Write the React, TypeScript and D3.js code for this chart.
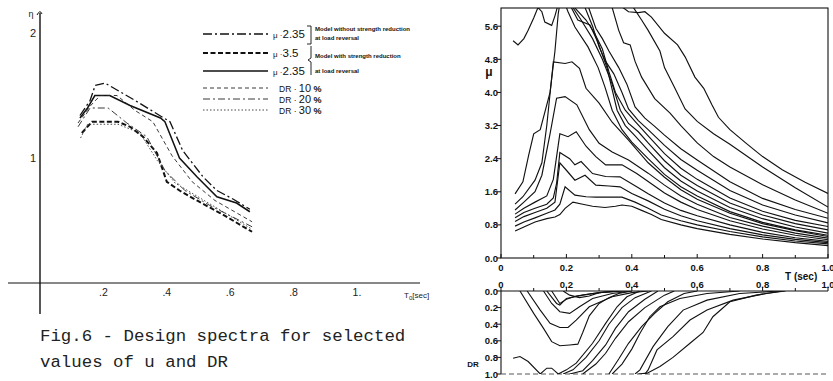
import React from 'react';
import * as d3 from 'd3';

type P = [number, number];

// ---------- Left chart (design spectra) ----------
const leftXTicks = [0.2, 0.4, 0.6, 0.8, 1.0];
const leftXTickLabels = ['.2', '.4', '.6', '.8', '1.'];
const leftYTicks = [1, 2];
const leftYTickLabels = ['1', '2'];

const mu235NoRed: P[] = [[0.126, 1.34], [0.158, 1.46], [0.174, 1.58], [0.205, 1.6], [0.3, 1.46], [0.41, 1.29], [0.45, 1.06], [0.514, 0.85], [0.558, 0.74], [0.61, 0.67], [0.662, 0.59]];
const mu35: P[] = [[0.132, 1.2], [0.164, 1.29], [0.246, 1.29], [0.284, 1.25], [0.325, 1.17], [0.369, 1.04], [0.4, 0.81], [0.44, 0.74], [0.495, 0.66], [0.568, 0.56], [0.669, 0.41]];
const mu235Red: P[] = [[0.126, 1.32], [0.15, 1.4], [0.173, 1.5], [0.22, 1.5], [0.284, 1.42], [0.38, 1.32], [0.394, 1.29], [0.44, 1.0], [0.495, 0.85], [0.558, 0.69], [0.62, 0.64], [0.662, 0.57]];
const dr10: P[] = [[0.12, 1.28], [0.16, 1.42], [0.19, 1.5], [0.243, 1.5], [0.3, 1.38], [0.356, 1.29], [0.416, 1.02], [0.48, 0.81], [0.552, 0.66], [0.669, 0.49]];
const dr20: P[] = [[0.12, 1.25], [0.158, 1.4], [0.215, 1.4], [0.274, 1.28], [0.337, 1.17], [0.394, 0.9], [0.457, 0.74], [0.536, 0.62], [0.669, 0.45]];
const dr30: P[] = [[0.128, 1.16], [0.15, 1.27], [0.246, 1.27], [0.315, 1.2], [0.37, 0.98], [0.426, 0.8], [0.505, 0.68], [0.669, 0.43]];

const legendValues = ['2.35', '3.5', '2.35', '10', '20', '30'];
const legendPrefixes = ['μ ·', 'μ ·', 'μ ·', 'DR · ', 'DR · ', 'DR · '];
const legendSuffixes = ['', '', '', ' %', ' %', ' %'];
const annotations = ['Model  without  strength  reduction', 'at  load  reversal', 'Model  with  strength  reduction', 'at  load  reversal'];

// ---------- Right upper chart (mu spectra) ----------
const muYTicks = [0, 0.8, 1.6, 2.4, 3.2, 4.0, 4.8, 5.6];
const tXTicks = [0, 0.2, 0.4, 0.6, 0.8, 1.0];
const tMinorTicks = [0.1, 0.3, 0.5, 0.7, 0.9];

const muC1: P[] = [[0.043, 0.65], [0.07, 0.75], [0.104, 0.87], [0.14, 0.95], [0.165, 0.99], [0.18, 1.05], [0.196, 1.2], [0.22, 1.35], [0.25, 1.3], [0.28, 1.25], [0.318, 1.22], [0.35, 1.25], [0.37, 1.28], [0.4, 1.25], [0.43, 1.15], [0.46, 1.05], [0.49, 0.93], [0.55, 0.8], [0.6, 0.71], [0.7, 0.57], [0.8, 0.46], [0.9, 0.37], [1.0, 0.3]];
const muC2: P[] = [[0.043, 0.77], [0.07, 0.87], [0.104, 0.97], [0.14, 1.08], [0.165, 1.16], [0.18, 1.3], [0.196, 1.72], [0.226, 1.52], [0.26, 1.48], [0.29, 1.47], [0.37, 1.47], [0.41, 1.35], [0.45, 1.2], [0.49, 1.04], [0.55, 0.9], [0.6, 0.8], [0.7, 0.64], [0.8, 0.51], [0.9, 0.41], [1.0, 0.34]];
const muC3: P[] = [[0.043, 0.88], [0.07, 1.0], [0.104, 1.1], [0.14, 1.2], [0.165, 1.35], [0.18, 2.3], [0.2, 2.12], [0.226, 1.88], [0.257, 2.0], [0.29, 1.76], [0.33, 1.74], [0.364, 1.72], [0.4, 1.56], [0.45, 1.38], [0.5, 1.18], [0.55, 1.02], [0.6, 0.9], [0.7, 0.71], [0.8, 0.56], [0.9, 0.45], [1.0, 0.37]];
const muC4: P[] = [[0.043, 0.97], [0.07, 1.1], [0.104, 1.2], [0.14, 1.3], [0.16, 1.45], [0.17, 1.8], [0.18, 2.55], [0.21, 2.4], [0.226, 2.25], [0.245, 2.33], [0.28, 2.04], [0.32, 1.97], [0.364, 1.96], [0.415, 1.72], [0.45, 1.55], [0.5, 1.33], [0.55, 1.15], [0.6, 1.02], [0.7, 0.8], [0.8, 0.62], [0.9, 0.49], [1.0, 0.4]];
const muC5: P[] = [[0.043, 1.06], [0.07, 1.2], [0.104, 1.35], [0.14, 1.5], [0.16, 1.9], [0.18, 3.0], [0.205, 2.93], [0.23, 3.05], [0.26, 2.7], [0.29, 2.45], [0.32, 2.25], [0.37, 2.25], [0.415, 2.04], [0.45, 1.85], [0.5, 1.57], [0.55, 1.35], [0.6, 1.17], [0.7, 0.9], [0.8, 0.7], [0.9, 0.55], [1.0, 0.44]];
const muC6: P[] = [[0.043, 1.16], [0.07, 1.35], [0.104, 1.6], [0.125, 2.0], [0.15, 3.0], [0.17, 3.86], [0.196, 3.9], [0.232, 3.7], [0.27, 3.1], [0.3, 2.77], [0.34, 2.56], [0.39, 2.37], [0.45, 2.05], [0.5, 1.76], [0.55, 1.5], [0.6, 1.3], [0.7, 0.98], [0.8, 0.77], [0.9, 0.6], [1.0, 0.48]];
const muC7: P[] = [[0.043, 1.3], [0.067, 1.48], [0.104, 1.88], [0.125, 2.3], [0.14, 3.2], [0.16, 4.74], [0.196, 4.7], [0.217, 4.74], [0.24, 4.58], [0.26, 4.1], [0.3, 3.74], [0.34, 3.28], [0.39, 2.85], [0.45, 2.3], [0.5, 1.95], [0.55, 1.65], [0.6, 1.42], [0.7, 1.08], [0.8, 0.83], [0.9, 0.66], [1.0, 0.52]];
const muC8: P[] = [[0.043, 1.55], [0.067, 1.84], [0.085, 2.5], [0.1, 3.0], [0.12, 3.1], [0.15, 4.0], [0.165, 5.0], [0.175, 5.9], [0.18, 6.15], [0.195, 6.15], [0.205, 5.95], [0.226, 5.58], [0.266, 5.1], [0.297, 4.6], [0.318, 4.13], [0.34, 3.57], [0.37, 3.1], [0.4, 2.8], [0.45, 2.4], [0.5, 2.02], [0.55, 1.72], [0.6, 1.5], [0.7, 1.12], [0.8, 0.86], [0.9, 0.68], [1.0, 0.55]];
const muC0: P[] = [[0.037, 5.25], [0.052, 5.15], [0.07, 5.3], [0.083, 5.5], [0.1, 5.8], [0.113, 6.05], [0.125, 5.95], [0.134, 5.7], [0.155, 5.62], [0.165, 5.85], [0.172, 6.05], [0.19, 6.3], [0.205, 6.25], [0.215, 6.05], [0.235, 5.75], [0.272, 5.63], [0.297, 5.2], [0.324, 4.6], [0.355, 3.57], [0.38, 3.2], [0.41, 2.95], [0.45, 2.6], [0.5, 2.18], [0.55, 1.86], [0.6, 1.62], [0.7, 1.22], [0.8, 0.95], [0.9, 0.75], [1.0, 0.6]];
const muX1: P[] = [[0.2, 6.4], [0.22, 6.05], [0.245, 5.75], [0.28, 5.3], [0.31, 4.8], [0.34, 4.2], [0.365, 3.57], [0.39, 3.25], [0.42, 3.05], [0.45, 2.78], [0.5, 2.35], [0.55, 2.0], [0.6, 1.75], [0.7, 1.33], [0.8, 1.04], [0.9, 0.83], [1.0, 0.68]];
const muX2: P[] = [[0.21, 6.4], [0.225, 6.05], [0.26, 5.75], [0.285, 5.45], [0.31, 5.05], [0.33, 4.5], [0.35, 4.0], [0.38, 3.57], [0.41, 3.3], [0.45, 2.95], [0.5, 2.52], [0.55, 2.17], [0.6, 1.9], [0.7, 1.45], [0.8, 1.13], [0.9, 0.91], [1.0, 0.76]];
const muX3: P[] = [[0.25, 6.4], [0.257, 6.05], [0.28, 5.6], [0.3, 5.1], [0.32, 4.75], [0.345, 4.45], [0.37, 4.0], [0.39, 3.6], [0.42, 3.32], [0.45, 3.1], [0.5, 2.72], [0.55, 2.38], [0.6, 2.12], [0.7, 1.63], [0.8, 1.28], [0.9, 1.04], [1.0, 0.85]];
const muX4: P[] = [[0.26, 6.4], [0.268, 6.05], [0.29, 5.55], [0.31, 5.3], [0.33, 5.0], [0.36, 4.6], [0.385, 4.2], [0.41, 3.65], [0.44, 3.38], [0.47, 3.18], [0.5, 2.97], [0.55, 2.64], [0.6, 2.37], [0.7, 1.84], [0.8, 1.44], [0.9, 1.17], [1.0, 0.96]];
const muH2: P[] = [[0.335, 6.4], [0.34, 6.05], [0.36, 5.5], [0.375, 5.2], [0.395, 5.15], [0.41, 4.75], [0.43, 4.37], [0.47, 3.85], [0.517, 3.5], [0.55, 3.2], [0.6, 2.78], [0.65, 2.45], [0.7, 2.2], [0.8, 1.77], [0.9, 1.4], [1.0, 1.08]];
const muH1: P[] = [[0.39, 6.4], [0.405, 6.05], [0.43, 5.75], [0.45, 5.5], [0.486, 5.0], [0.5, 4.6], [0.53, 4.13], [0.563, 3.6], [0.6, 3.3], [0.65, 3.0], [0.7, 2.75], [0.8, 2.2], [0.9, 1.7], [1.0, 1.23]];
const muH0: P[] = [[0.36, 6.4], [0.373, 6.05], [0.39, 5.95], [0.42, 5.93], [0.44, 5.95], [0.46, 5.82], [0.5, 5.43], [0.54, 5.15], [0.563, 4.86], [0.593, 4.37], [0.62, 4.1], [0.645, 3.7], [0.665, 3.4], [0.7, 3.1], [0.75, 2.77], [0.8, 2.45], [0.86, 2.13], [0.93, 1.83], [1.0, 1.56]];

// ---------- Right lower chart (DR) ----------
const drYTicks = [0, 0.2, 0.4, 0.6, 0.8, 1.0];

const drL1: P[] = [[0.058, 0], [0.1, 0.27], [0.13, 0.45], [0.155, 0.61], [0.18, 0.66], [0.21, 0.65], [0.235, 0.64], [0.25, 0.5], [0.27, 0.3], [0.3, 0.15], [0.33, 0.08], [0.36, 0.03], [0.4, 0]];
const drL2: P[] = [[0.08, 0], [0.12, 0.23], [0.15, 0.39], [0.18, 0.44], [0.205, 0.44], [0.23, 0.35], [0.27, 0.19], [0.34, 0.07], [0.4, 0.02], [0.45, 0]];
const drL3: P[] = [[0.13, 0], [0.155, 0.15], [0.18, 0.25], [0.21, 0.27], [0.24, 0.19], [0.28, 0.09], [0.34, 0.03], [0.4, 0]];
const drL4: P[] = [[0.14, 0], [0.17, 0.15], [0.18, 0.17], [0.2, 0.09], [0.25, 0.05], [0.3, 0.02], [0.38, 0]];
const drL5: P[] = [[0.155, 0], [0.18, 0.15], [0.2, 0.1], [0.23, 0.06], [0.28, 0.03], [0.35, 0]];
const drL6: P[] = [[0.19, 0], [0.21, 0.05], [0.24, 0.08], [0.27, 0.06], [0.3, 0.02], [0.36, 0]];
const drR1: P[] = [[0.037, 0.81], [0.058, 0.79], [0.083, 0.85], [0.12, 1.0], [0.14, 0.93], [0.155, 0.93], [0.175, 1.0], [0.2, 0.95], [0.23, 0.87], [0.28, 0.63], [0.32, 0.39], [0.355, 0.19], [0.385, 0.07], [0.425, 0]];
const drR2: P[] = [[0.19, 1.0], [0.22, 0.95], [0.26, 0.8], [0.3, 0.6], [0.33, 0.4], [0.37, 0.2], [0.41, 0.08], [0.46, 0]];
const drR3: P[] = [[0.21, 1.0], [0.25, 0.96], [0.28, 0.84], [0.32, 0.65], [0.35, 0.45], [0.39, 0.25], [0.44, 0.1], [0.48, 0]];
const drR4: P[] = [[0.25, 1.0], [0.29, 0.88], [0.32, 0.75], [0.35, 0.57], [0.39, 0.37], [0.44, 0.2], [0.5, 0.05], [0.53, 0]];
const drR5: P[] = [[0.33, 1.0], [0.36, 0.82], [0.39, 0.63], [0.43, 0.43], [0.47, 0.27], [0.51, 0.13], [0.56, 0.03], [0.6, 0]];
const drR6: P[] = [[0.34, 1.0], [0.37, 0.88], [0.4, 0.7], [0.425, 0.51], [0.455, 0.31], [0.486, 0.19], [0.547, 0.09], [0.63, 0.03], [0.73, 0]];
const drR7: P[] = [[0.41, 1.0], [0.425, 0.95], [0.465, 0.67], [0.51, 0.43], [0.557, 0.23], [0.63, 0.11], [0.73, 0.03], [0.85, 0]];
const drR8: P[] = [[0.44, 1.0], [0.45, 0.95], [0.477, 0.71], [0.526, 0.55], [0.578, 0.35], [0.63, 0.23], [0.71, 0.11], [0.81, 0.03], [0.87, 0]];
const drR9: P[] = [[0.42, 1.0], [0.447, 0.99], [0.486, 0.91], [0.526, 0.8], [0.578, 0.63], [0.618, 0.5], [0.648, 0.31], [0.7, 0.13], [0.78, 0.05], [0.86, 0]];

const muCurves = [muC1, muC2, muC3, muC4, muC5, muC6, muC7, muC8, muC0, muX1, muX2, muX3, muX4, muH2, muH1, muH0];
const drCurves = [drL1, drL2, drL3, drL4, drL5, drL6, drR1, drR2, drR3, drR4, drR5, drR6, drR7, drR8, drR9];

export default function App() {
  const W = 833, H = 381;
  // left scales
  const xL = d3.scaleLinear().domain([0, 1]).range([40, 357]);
  const yL = d3.scaleLinear().domain([0, 2]).range([283, 33]);
  const lineL = d3.line<P>().x(d => xL(d[0])).y(d => yL(d[1]));

  // right scales
  const xR = d3.scaleLinear().domain([0, 1]).range([501, 828]);
  const yU = d3.scaleLinear().domain([0, 6.04]).range([258, 8]);
  const yD = d3.scaleLinear().domain([0, 1]).range([291, 374]);
  const lineU = d3.line<P>().x(d => xR(d[0])).y(d => yU(d[1]));
  const lineD = d3.line<P>().x(d => xR(d[0])).y(d => yD(d[1]));

  const leftSeries = [
    { d: mu235NoRed, dash: '9,3,2,3', w: 1.3, c: '#111' },
    { d: mu35, dash: '5,2.5', w: 2.0, c: '#111' },
    { d: mu235Red, dash: '', w: 1.5, c: '#111' },
    { d: dr10, dash: '4,3', w: 0.9, c: '#222' },
    { d: dr20, dash: '7,3,2,3', w: 0.9, c: '#222' },
    { d: dr30, dash: '1.5,2', w: 0.9, c: '#333' },
  ];
  const legendY = [34, 53, 71, 88, 99, 110];

  const fmt = d3.format('.1f');
  const sans = '"Liberation Sans", Arial, sans-serif';
  const mono = '"Liberation Mono", "DejaVu Sans Mono", monospace';

  return (
    <svg width={W} height={H} style={{ position: 'absolute', left: 0, top: 0, background: '#fff' }}
      fontFamily={sans}>
      <rect x={0} y={0} width={W} height={H} fill="#fff" />
      {/* ---------- LEFT CHART ---------- */}
      <line x1={8} x2={420} y1={yL(0)} y2={yL(0)} stroke="#111" strokeWidth={1.2} />
      <line x1={xL(0)} x2={xL(0)} y1={13} y2={314} stroke="#111" strokeWidth={1.4} />
      <path d={`M${xL(0) - 3},15 Q${xL(0)},9 ${xL(0) + 2},14`} fill="none" stroke="#111" strokeWidth={1} />
      {leftXTicks.map((t, i) => (
        <text key={'lx' + i} x={xL(t)} y={296} fontSize={10.5} textAnchor="middle" fill="#222">{leftXTickLabels[i]}</text>
      ))}
      {leftYTicks.map((t, i) => (
        <text key={'ly' + i} x={33} y={yL(t) + 4} fontSize={11} textAnchor="middle" fill="#222">{leftYTickLabels[i]}</text>
      ))}
      <text x={31} y={17} fontSize={9} textAnchor="middle" fill="#222">η</text>
      <text x={404} y={298} fontSize={8} fill="#222">T<tspan fontSize={6} dy={2}>0</tspan><tspan dy={-2}>[sec]</tspan></text>

      {leftSeries.map((s, i) => (
        <path key={'ls' + i} d={lineL(s.d) || ''} fill="none" stroke={s.c} strokeWidth={s.w} strokeDasharray={s.dash || undefined} />
      ))}
      {leftSeries.map((s, i) => (
        <g key={'lg' + i}>
          <line x1={203} x2={268} y1={legendY[i]} y2={legendY[i]} stroke={s.c} strokeWidth={s.w} strokeDasharray={s.dash || undefined} />
          <text x={i < 3 ? 273 : 279} y={legendY[i] + 4} fontSize={i < 3 ? 11.5 : 11} fill="#111">
            <tspan fontSize={i < 3 ? 8 : 8.5}>{legendPrefixes[i]}</tspan>{legendValues[i]}<tspan fontSize={9} fontWeight="bold">{legendSuffixes[i]}</tspan>
          </text>
        </g>
      ))}
      <path d="M307,26 L311,26 L311,44 L307,44" fill="none" stroke="#111" strokeWidth={0.9} />
      <path d="M311,46 L311,58 L308,60 L311,62 L311,75" fill="none" stroke="#111" strokeWidth={0.9} />
      <text x={315} y={31} fontSize={6} fontWeight="bold" fill="#111">{annotations[0]}</text>
      <text x={315} y={40} fontSize={6} fontWeight="bold" fill="#111">{annotations[1]}</text>
      <text x={315} y={58} fontSize={6} fontWeight="bold" fill="#111">{annotations[2]}</text>
      <text x={315} y={73} fontSize={6} fontWeight="bold" fill="#111">{annotations[3]}</text>

      <text x={40} y={341} fontSize={17.4} fontFamily={mono} fill="#222">Fig.6 - Design spectra for selected</text>
      <text x={40} y={367} fontSize={17.4} fontFamily={mono} fill="#222">values of u and DR</text>

      {/* ---------- RIGHT UPPER CHART ---------- */}
      <defs>
        <clipPath id="clipU"><rect x={501} y={8} width={327} height={250} /></clipPath>
        <clipPath id="clipD"><rect x={501} y={291} width={327} height={83} /></clipPath>
      </defs>
      <rect x={501} y={8} width={327} height={250} fill="none" stroke="#111" strokeWidth={1.1} />
      {muYTicks.map((t, i) => (
        <g key={'uy' + i}>
          <line x1={497} x2={501} y1={yU(t)} y2={yU(t)} stroke="#111" strokeWidth={1} />
          <text x={498} y={yU(t) + 3.5} fontSize={9.5} fontWeight="bold" textAnchor="end" fill="#111">{fmt(t)}</text>
        </g>
      ))}
      {tXTicks.map((t, i) => (
        <g key={'ux' + i}>
          <line x1={xR(t)} x2={xR(t)} y1={258} y2={254} stroke="#111" strokeWidth={1} />
          <text x={xR(t)} y={271} fontSize={9.5} fontWeight="bold" textAnchor="middle" fill="#111">{t === 0 ? '0' : fmt(t)}</text>
        </g>
      ))}
      {tMinorTicks.map((t, i) => (
        <line key={'um' + i} x1={xR(t)} x2={xR(t)} y1={258} y2={255} stroke="#111" strokeWidth={1} />
      ))}
      <text x={489} y={76} fontSize={12} fontWeight="bold" textAnchor="middle" fill="#111">μ</text>
      <text x={785} y={280} fontSize={10} fontWeight="bold" fill="#111">T  (sec)</text>
      <g clipPath="url(#clipU)">
        {muCurves.map((c, i) => (
          <path key={'mu' + i} d={lineU(c) || ''} fill="none" stroke="#111" strokeWidth={1.15} />
        ))}
      </g>

      {/* ---------- RIGHT LOWER CHART ---------- */}
      <line x1={501} x2={828} y1={yD(0)} y2={yD(0)} stroke="#111" strokeWidth={1.2} />
      <line x1={501} x2={501} y1={yD(0)} y2={yD(1)} stroke="#111" strokeWidth={1.1} />
      <line x1={501} x2={828} y1={yD(1)} y2={yD(1)} stroke="#444" strokeWidth={0.9} strokeDasharray="5,3" />
      {tXTicks.map((t, i) => (
        <g key={'dx' + i}>
          <line x1={xR(t)} x2={xR(t)} y1={yD(0)} y2={yD(0) - 4} stroke="#111" strokeWidth={1} />
          <text x={xR(t)} y={288} fontSize={9.5} fontWeight="bold" textAnchor="middle" fill="#111">{t === 0 ? '0' : fmt(t)}</text>
        </g>
      ))}
      {tMinorTicks.map((t, i) => (
        <line key={'dm' + i} x1={xR(t)} x2={xR(t)} y1={yD(0)} y2={yD(0) - 3} stroke="#111" strokeWidth={1} />
      ))}
      {drYTicks.map((t, i) => (
        <g key={'dy' + i}>
          <line x1={497} x2={501} y1={yD(t)} y2={yD(t)} stroke="#111" strokeWidth={1} />
          <text x={498} y={yD(t) + 3.5} fontSize={9.5} fontWeight="bold" textAnchor="end" fill="#111">{fmt(t)}</text>
        </g>
      ))}
      <text x={473} y={367} fontSize={8} fontWeight="bold" textAnchor="middle" fill="#111">DR</text>
      <g clipPath="url(#clipD)">
        {drCurves.map((c, i) => (
          <path key={'dr' + i} d={lineD(c) || ''} fill="none" stroke="#111" strokeWidth={1.1} />
        ))}
      </g>
    </svg>
  );
}
